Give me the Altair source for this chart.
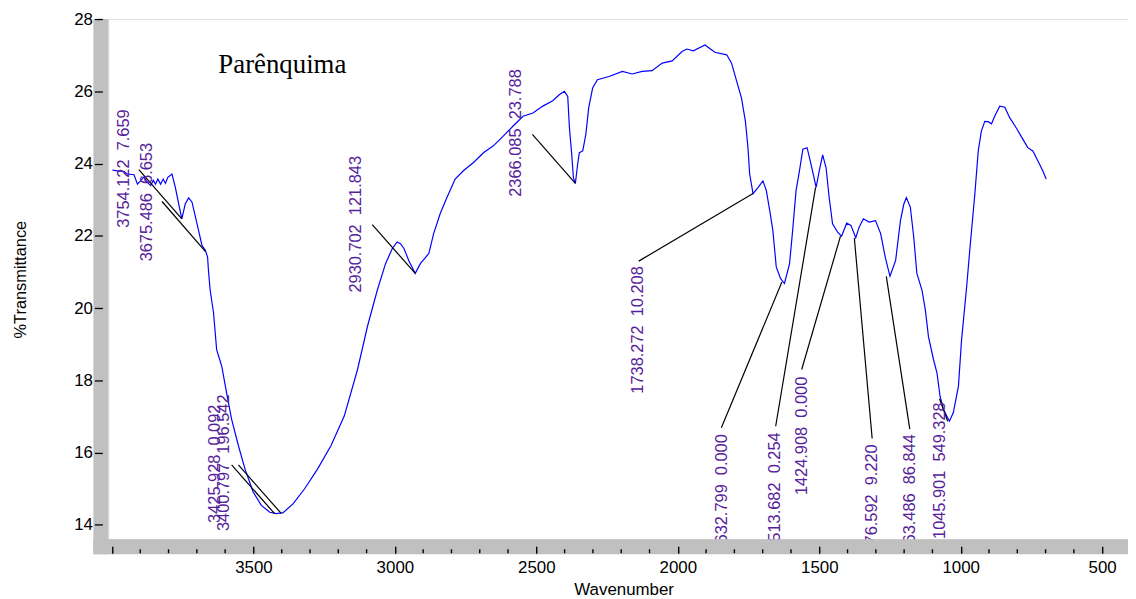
import altair as alt
import pandas as pd

# ---- spectrum (wavenumber, %T) ----
wn = [3998,3981,3957,3946,3922,3910,3899,3887,3875,3863,
      3854,3846,3838,3828,3819,3811,3803,3788,3776,3764,
      3753,3741,3729,3717,3706,3694,3682,3670,3662,3659,
      3653,3641,3630,3612,3595,3577,3553,3530,3501,3472,
      3442,3419,3395,3360,3319,3273,3226,3179,3132,3097,
      3062,3033,3009,2992,2980,2968,2951,2928,2910,2880,
      2863,2840,2816,2787,2758,2722,2687,2652,2617,2582,
      2547,2512,2477,2442,2418,2401,2389,2383,2375,2369,
      2362,2354,2348,2336,2325,2315,2301,2284,2243,2196,
      2161,2126,2091,2055,2020,1985,1968,1945,1904,1869,
      1827,1810,1792,1775,1761,1752,1746,1734,1716,1699,
      1687,1675,1664,1652,1637,1623,1605,1594,1582,1570,
      1558,1543,1529,1511,1500,1488,1476,1465,1453,1435,
      1421,1403,1388,1371,1359,1344,1324,1301,1283,1266,
      1250,1230,1213,1201,1192,1178,1166,1155,1137,1125,
      1114,1096,1084,1073,1061,1040,1026,1008,997,979,
      967,950,938,927,915,903,891,880,862,844,
      827,804,780,763,745,727,710,698]
tr = [23.82,23.80,23.78,23.71,23.69,23.43,23.52,23.63,23.48,23.39,
      23.54,23.43,23.57,23.43,23.57,23.45,23.61,23.71,23.34,22.88,
      22.47,22.88,23.05,22.93,22.56,22.15,21.74,21.60,21.41,21.05,
      20.50,19.87,18.85,18.39,17.66,16.92,16.19,15.55,14.91,14.54,
      14.35,14.31,14.34,14.58,15.00,15.55,16.19,17.01,18.30,19.49,
      20.50,21.23,21.65,21.83,21.78,21.65,21.32,20.96,21.23,21.51,
      22.06,22.61,23.06,23.57,23.80,24.03,24.30,24.49,24.76,25.04,
      25.31,25.40,25.59,25.74,25.91,26.00,25.86,24.99,24.26,23.61,
      23.45,23.98,24.30,24.35,24.81,25.54,26.09,26.32,26.41,26.55,
      26.48,26.55,26.57,26.78,26.84,27.10,27.17,27.12,27.28,27.08,
      27.01,26.78,26.28,25.82,25.17,24.44,23.71,23.17,23.34,23.52,
      23.25,22.70,22.15,21.14,20.82,20.68,21.23,22.15,23.25,23.80,
      24.40,24.44,23.98,23.34,23.80,24.24,23.89,23.06,22.33,22.10,
      21.99,22.35,22.29,21.95,22.24,22.47,22.38,22.42,22.06,21.38,
      20.88,21.32,22.42,22.88,23.06,22.79,21.96,20.96,20.50,19.95,
      19.21,18.57,18.21,17.56,17.20,16.87,17.11,17.84,19.12,20.59,
      21.69,23.16,24.35,24.90,25.17,25.16,25.10,25.31,25.59,25.56,
      25.27,24.99,24.67,24.44,24.35,24.07,23.80,23.57]

# ---- peak annotations ----
ann_label = ["3754.122\u00a0 7.659", "3675.486\u00a0 6.653", "3425.928\u00a0 0.092",
             "3400.797\u00a0 196.542", "2930.702\u00a0 121.843", "2366.085\u00a0 23.788",
             "1738.272\u00a0 10.208", "1632.799\u00a0 0.000", "1513.682\u00a0 0.254",
             "1424.908\u00a0 0.000", "1376.592\u00a0 9.220", "1263.486\u00a0 86.844",
             "1045.901\u00a0 549.328"]
ann_text_x = [3957, 3875, 3634, 3603, 3136, 2571, 2139, 1845, 1658, 1562, 1313, 1178, 1073]
ann_text_y = [25.50, 24.57, 17.33, 17.61, 24.21, 26.61, 21.16, 16.51, 16.56, 18.10, 16.23, 16.51, 17.39]
lead_x1 = [3905, 3823, 3577, 3553, 3080, 2514, 2138, 1846, 1654, 1562, 1313, 1180, 1075]
lead_y1 = [23.83, 22.95, 15.66, 15.66, 22.31, 24.81, 21.30, 16.69, 16.73, 18.30, 16.39, 16.65, 17.49]
lead_x2 = [3753, 3670, 3425, 3401, 2928, 2362, 1734, 1632, 1513, 1425, 1376, 1263, 1046]
lead_y2 = [22.47, 21.57, 14.31, 14.31, 20.96, 23.45, 23.17, 20.72, 23.34, 21.99, 21.94, 20.88, 16.87]

major_ticks = [4000, 3500, 3000, 2500, 2000, 1500, 1000, 500]
minor_ticks = [3900, 3800, 3700, 3600, 3400, 3300, 3200, 3100, 2900, 2800, 2700, 2600,
               2400, 2300, 2200, 2100, 1900, 1800, 1700, 1600, 1400, 1300, 1200, 1100,
               900, 800, 700, 600]
y_ticks = [14, 16, 18, 20, 22, 24, 26, 28]

title_text = ["Parênquima"]
title_x = [3624]
title_y = [26.50]

SANS = "Liberation Sans"
W, H = 1027, 524

xscale = alt.Scale(domain=[408.7, 4013], reverse=True, nice=False, zero=False)
yscale = alt.Scale(domain=[13.6, 28.0], nice=False, zero=False)

spec = pd.DataFrame({"wn": wn, "tr": tr})
ann = pd.DataFrame({"label": ann_label, "tx": ann_text_x, "ty": ann_text_y,
                    "x1": lead_x1, "y1": lead_y1, "x2": lead_x2, "y2": lead_y2})
minor = pd.DataFrame({"wn": minor_ticks})
ttl = pd.DataFrame({"t": title_text, "x": title_x, "y": title_y})
one = pd.DataFrame({"a": [0]})

xaxis = alt.Axis(values=major_ticks, format="d", title="Wavenumber", grid=False, domain=False,
                 labelExpr="datum.value == 4000 ? '' : datum.label",
                 offset=7, tickSize=7, tickWidth=1.4, tickColor="black",
                 labelFont=SANS, labelFontSize=17, labelColor="black", labelPadding=6,
                 labelFlush=False, labelOverlap=False,
                 titleFont=SANS, titleFontSize=17, titleFontWeight="normal", titleColor="black",
                 titlePadding=7, titleX=519, zindex=1)
yaxis = alt.Axis(values=y_ticks, format="d", title="%Transmittance", grid=False, domain=False,
                 offset=6, tickSize=8, tickWidth=1.3, tickColor="black",
                 labelFont=SANS, labelFontSize=17, labelColor="black", labelPadding=2,
                 labelFlush=False, labelOverlap=False,
                 titleFont=SANS, titleFontSize=16.5, titleFontWeight="normal", titleColor="black",
                 titlePadding=45, zindex=1)

gray_left = alt.Chart(one).mark_rect(color="#c0c0c0").encode(
    x=alt.value(-15), x2=alt.value(0), y=alt.value(0), y2=alt.value(H + 15))
gray_bottom = alt.Chart(one).mark_rect(color="#c0c0c0").encode(
    x=alt.value(-15), x2=alt.value(W), y=alt.value(H), y2=alt.value(H + 15))

minor_rules = alt.Chart(minor).mark_rule(color="black", strokeWidth=1.4).encode(
    x=alt.X("wn:Q", scale=xscale), y=alt.value(H + 10), y2=alt.value(H + 14))

line = alt.Chart(spec).mark_line(color="#0000ff", strokeWidth=1.2, clip=True).encode(
    x=alt.X("wn:Q", scale=xscale, axis=xaxis),
    y=alt.Y("tr:Q", scale=yscale, axis=yaxis),
)

leaders = alt.Chart(ann).mark_rule(color="black", strokeWidth=1.2).encode(
    x=alt.X("x1:Q", scale=xscale), y=alt.Y("y1:Q", scale=yscale),
    x2="x2:Q", y2="y2:Q")

labels = alt.Chart(ann).mark_text(angle=270, align="right", baseline="middle",
                                  font=SANS, fontSize=16.5, color="#56229c", clip=True).encode(
    x=alt.X("tx:Q", scale=xscale), y=alt.Y("ty:Q", scale=yscale), text="label:N")

title = alt.Chart(ttl).mark_text(align="left", baseline="alphabetic", font="Liberation Serif",
                                 fontSize=27, color="black").encode(
    x=alt.X("x:Q", scale=xscale), y=alt.Y("y:Q", scale=yscale), text="t:N")

chart = alt.layer(gray_left, gray_bottom, minor_rules, line, leaders, labels, title).properties(
    width=W, height=H,
    autosize=alt.AutoSizeParams(type="none"),
    padding={"left": 101, "top": 9, "right": 0, "bottom": 60},
).configure_view(stroke=None).configure(background="white")

chart.save("out.html", embed_options={"renderer": "svg", "actions": False})
